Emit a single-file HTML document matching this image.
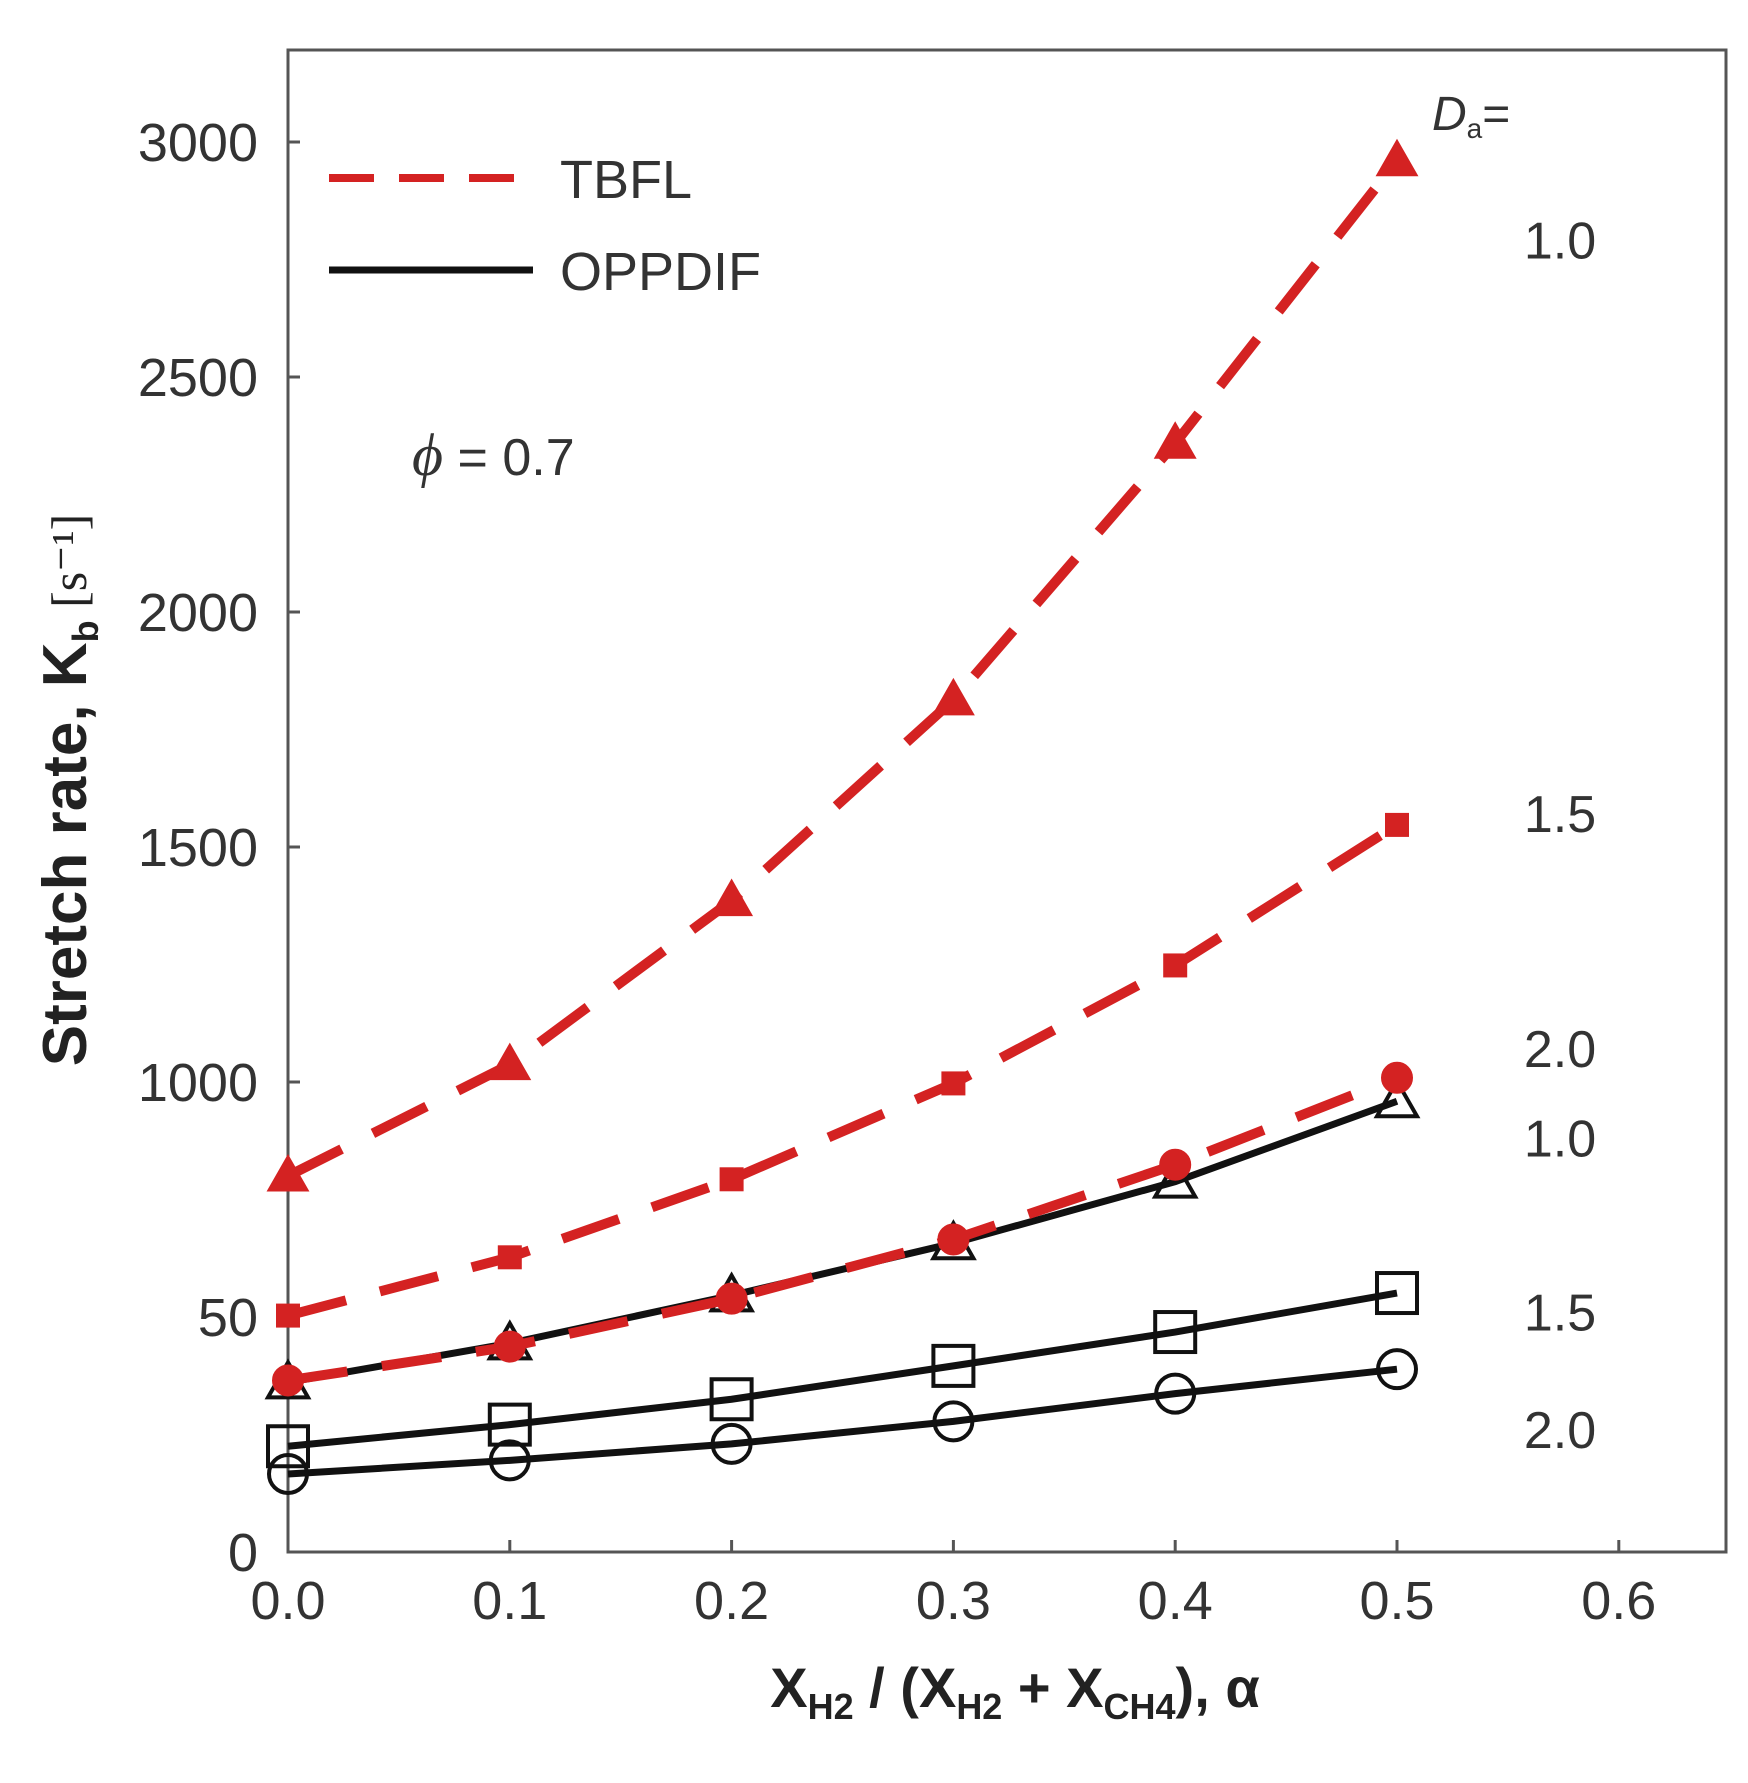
<!DOCTYPE html>
<html><head><meta charset="utf-8"><style>
html,body{margin:0;padding:0;background:#fff;}
svg{display:block;font-family:"Liberation Sans",Arial,sans-serif;}
</style></head><body>
<svg id="chart" width="1748" height="1783" viewBox="0 0 1748 1783" xmlns="http://www.w3.org/2000/svg">
<rect x="288" y="50" width="1438" height="1502" fill="none" stroke="#555" stroke-width="3"/>
<g id="ticks"></g>
<g id="series"></g>
<g>
<line x1="329" y1="178" x2="518" y2="178" stroke="#d42222" stroke-width="8" stroke-dasharray="45,25"/>
<text x="560" y="198" font-size="54" fill="#333">TBFL</text>
<line x1="329" y1="270" x2="533" y2="270" stroke="#111" stroke-width="7"/>
<text x="560" y="290" font-size="54" fill="#333">OPPDIF</text>
</g>
<text x="412" y="475" font-size="52" fill="#333"><tspan font-style="italic" font-family="'Liberation Serif',serif" font-size="60">ϕ</tspan> = 0.7</text>
<text x="1432" y="130" font-size="48" fill="#333"><tspan font-style="italic">D</tspan><tspan font-size="28" dy="8">a</tspan><tspan dy="-8">=</tspan></text>
<g id="dalabels"></g>
<text transform="translate(86,790) rotate(-90)" text-anchor="middle" font-size="62" fill="#222"><tspan font-weight="bold">Stretch rate,  K</tspan><tspan font-weight="bold" font-size="36" dy="12">b</tspan><tspan dy="-12" font-family="'Liberation Serif',serif" font-size="50">  [s⁻¹]</tspan></text>
<text x="1015" y="1707" text-anchor="middle" font-size="56" font-weight="bold" fill="#222">X<tspan font-size="36" dy="12">H2</tspan><tspan dy="-12"> / (X</tspan><tspan font-size="36" dy="12">H2</tspan><tspan dy="-12"> + X</tspan><tspan font-size="36" dy="12">CH4</tspan><tspan dy="-12">), α</tspan></text>
</svg>
<script>
const xCats = [0, 0.1, 0.2, 0.3, 0.4, 0.5];
const xTicks = [0, 0.1, 0.2, 0.3, 0.4, 0.5, 0.6];
const xTickLabels = ["0.0","0.1","0.2","0.3","0.4","0.5","0.6"];
const yTicks = [0, 500, 1000, 1500, 2000, 2500, 3000];
const yTickLabels = ["0","50","1000","1500","2000","2500","3000"];
const tbfl10 = [800, 1037, 1386, 1813, 2359, 2960];
const tbfl15 = [503, 627, 793, 997, 1248, 1547];
const tbfl20 = [365, 437, 539, 665, 824, 1009];
const opp10 = [361, 444, 546, 657, 788, 959];
const opp15 = [225, 271, 325, 396, 468, 551];
const opp20 = [166, 195, 230, 278, 337, 389];
const daLabels = ["1.0","1.5","2.0","1.0","1.5","2.0"];
const daLabelValues = [2790, 1570, 1070, 880, 510, 260];

const NS = "http://www.w3.org/2000/svg";
function X(v){ return 288 + v / 0.1 * 221.8; }
function Y(v){ return 1552 - v / 500 * 235; }
function mk(tag, attrs, parent){
  const e = document.createElementNS(NS, tag);
  for (const k in attrs) e.setAttribute(k, attrs[k]);
  parent.appendChild(e);
  return e;
}
const ticks = document.getElementById('ticks');
xTicks.forEach((t,i)=>{
  const l = mk('line',{x1:X(t),x2:X(t),y1:1552,y2:1540,stroke:'#555','stroke-width':3},ticks);
  
  
  const tx = mk('text',{x:X(t),y:1619,'text-anchor':'middle','font-size':54,fill:'#333'},ticks);
  tx.textContent = xTickLabels[i];
  
  
});
yTicks.forEach((t,i)=>{
  const l = mk('line',{x1:288,x2:300,y1:Y(t),y2:Y(t),stroke:'#555','stroke-width':3},ticks);
  
  
  const tx = mk('text',{x:258,y:Y(t)+19,'text-anchor':'end','font-size':54,fill:'#333'},ticks);
  tx.textContent = yTickLabels[i];
  
  
});
const dl = document.getElementById('dalabels');
daLabels.forEach((s,i)=>{
  const t = mk('text',{x:1560,y:Y(daLabelValues[i])+18,'text-anchor':'middle','font-size':52,fill:'#333'},dl);
  t.textContent = s;
  
  
});
const g = document.getElementById('series');
function pts(arr){ return arr.map((v,i)=>X(xCats[i])+','+Y(v)).join(' '); }
function marker(kind, x, y, fill, stroke, size){
  let e;
  if (kind==='tri'){
    e = mk('polygon',{points:`${x},${y-size} ${x-size},${y+size*0.75} ${x+size},${y+size*0.75}`,fill:fill,stroke:stroke,'stroke-width':4},g);
  } else if (kind==='sq'){
    e = mk('rect',{x:x-size,y:y-size,width:2*size,height:2*size,fill:fill,stroke:stroke,'stroke-width':4},g);
  } else {
    e = mk('circle',{cx:x,cy:y,r:size,fill:fill,stroke:stroke,'stroke-width':4},g);
  }
  return e;
}
function series(arr, name, dashed, kind, size){
  const color = dashed ? '#d42222' : '#111';
  const line = mk('polyline',{points:pts(arr),fill:'none',stroke:color,'stroke-width':dashed?10:7,'stroke-dasharray':dashed?'60,35':'none'},g);
  
  
  arr.forEach((v,i)=>{
    const m = marker(kind, X(xCats[i]), Y(v), dashed?'#d42222':'none', dashed?'#d42222':'#111', size);
    
    
  });
}
series(opp10,'oppdif-da-1-0',false,'tri',20);
series(opp15,'oppdif-da-1-5',false,'sq',20);
series(opp20,'oppdif-da-2-0',false,'circ',19);
series(tbfl10,'tbfl-da-1-0',true,'tri',18);
series(tbfl15,'tbfl-da-1-5',true,'sq',10);
series(tbfl20,'tbfl-da-2-0',true,'circ',14);
</script>
</body></html>
